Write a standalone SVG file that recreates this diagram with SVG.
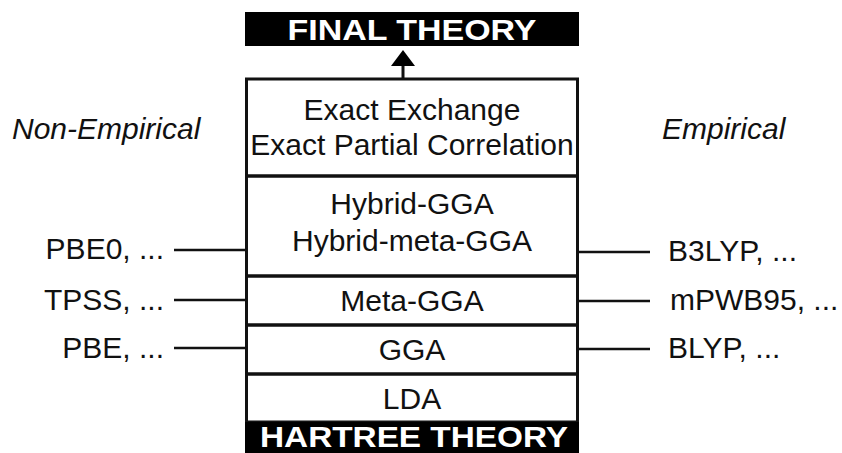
<svg xmlns="http://www.w3.org/2000/svg" width="842" height="453" viewBox="0 0 842 453">
<style>
text{font-family:"Liberation Sans",Arial,sans-serif;fill:#111;font-size:30px}
.c{text-anchor:middle}
.e{text-anchor:end}
.it{font-style:italic}
.bold{font-weight:bold;fill:#fff;text-anchor:middle;font-size:30px}
.ln{stroke:#111;stroke-width:3;fill:none}
.cn{stroke:#111;stroke-width:2.5;fill:none}
</style>
<rect width="842" height="453" fill="#fff"/>
<g id="final-theory">
<rect x="245" y="12" width="334" height="34" fill="#000"/>
<text class="bold" x="412" y="40" font-size="31" textLength="249" lengthAdjust="spacingAndGlyphs">FINAL THEORY</text>
</g>
<g id="exact">
<rect class="ln" x="246.5" y="79" width="331" height="97" fill="#fff"/>
<text class="c" x="412" y="120">Exact Exchange</text>
<text class="c" x="412" y="155">Exact Partial Correlation</text>
</g>
<g id="hybrid">
<rect class="ln" x="246.5" y="176" width="331" height="100"/>
<text class="c" x="412" y="214">Hybrid-GGA</text>
<text class="c" x="412" y="251">Hybrid-meta-GGA</text>
</g>
<g id="meta-gga">
<rect class="ln" x="246.5" y="276" width="331" height="49"/>
<text class="c" x="412" y="311">Meta-GGA</text>
</g>
<g id="gga">
<rect class="ln" x="246.5" y="325" width="331" height="49"/>
<text class="c" x="412" y="360">GGA</text>
</g>
<g id="lda">
<rect class="ln" x="246.5" y="374" width="331" height="48"/>
<text class="c" x="412" y="409">LDA</text>
</g>
<g id="hartree-theory">
<rect x="245" y="422" width="334" height="31" fill="#000"/>
<text class="bold" x="414" y="447" textLength="308" lengthAdjust="spacingAndGlyphs">HARTREE THEORY</text>
</g>
<g id="non-empirical"><text class="it" x="12" y="139">Non-Empirical</text></g>
<g id="empirical"><text class="it" x="662" y="139">Empirical</text></g>
<g id="pbe0"><text class="e" x="164" y="259">PBE0, ...</text></g>
<g id="tpss"><text class="e" x="164" y="310">TPSS, ...</text></g>
<g id="pbe"><text class="e" x="164" y="358">PBE, ...</text></g>
<g id="b3lyp"><text x="668" y="261">B3LYP, ...</text></g>
<g id="mpwb95"><text x="670" y="310">mPWB95, ...</text></g>
<g id="blyp"><text x="668" y="358">BLYP, ...</text></g>
<g id="connectors">
<line class="cn" x1="174" y1="250" x2="246" y2="250"/>
<line class="cn" x1="174" y1="300" x2="246" y2="300"/>
<line class="cn" x1="174" y1="348" x2="246" y2="348"/>
<line class="cn" x1="578" y1="252" x2="650" y2="252"/>
<line class="cn" x1="578" y1="301" x2="650" y2="301"/>
<line class="cn" x1="578" y1="349" x2="650" y2="349"/>
<line class="ln" x1="403" y1="64" x2="403" y2="78"/>
<polygon points="403,50 391,66 415,66" fill="#000"/>
</g>
</svg>
